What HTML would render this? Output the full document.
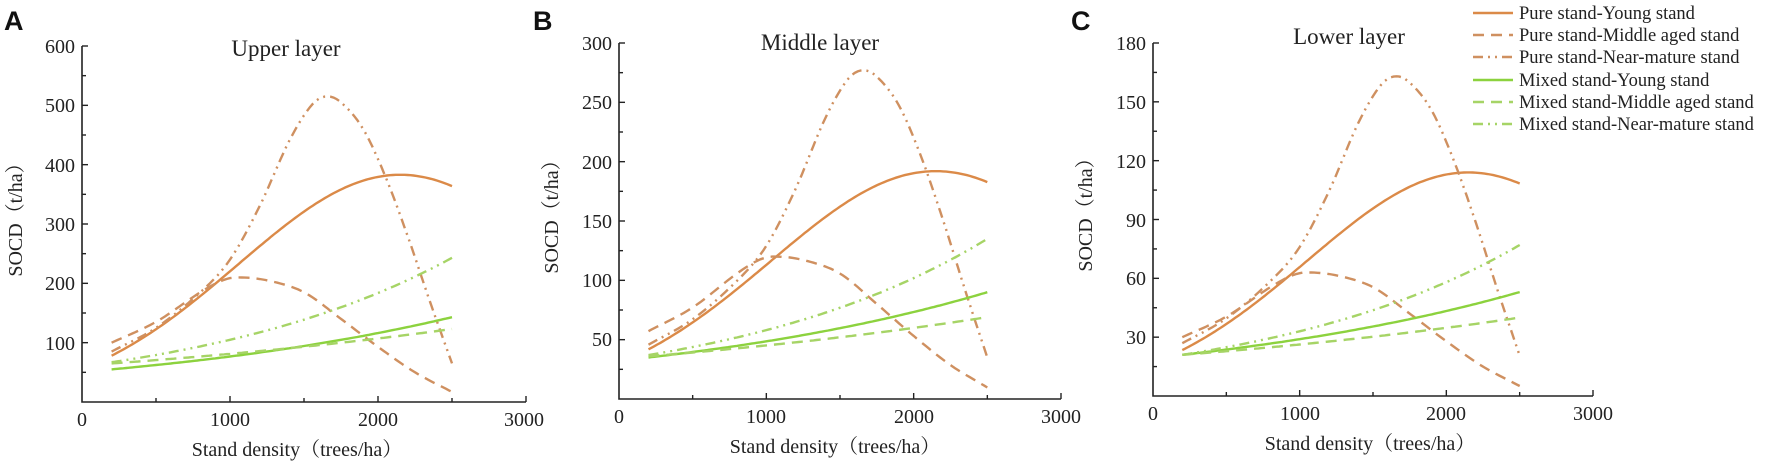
<!DOCTYPE html>
<html><head><meta charset="utf-8"><style>
html,body{margin:0;padding:0;background:#fff;}
svg{display:block;font-family:"Liberation Serif","Noto Serif CJK SC",serif;}
</style></head><body>
<svg id="s" width="1772" height="473" viewBox="0 0 1772 473" xmlns="http://www.w3.org/2000/svg">
<g font-family="Liberation Sans, sans-serif" font-weight="bold" font-size="27" fill="#111">
<text x="4" y="30">A</text><text x="533" y="30">B</text><text x="1071" y="30">C</text>
</g>
<g font-size="23" fill="#222" text-anchor="middle">
<text x="286" y="56">Upper layer</text>
<text x="820" y="50">Middle layer</text>
<text x="1349" y="44">Lower layer</text>
</g>
<g font-size="20" fill="#222" text-anchor="middle">
<text x="297" y="456">Stand density（trees/ha）</text>
<text x="835" y="453">Stand density（trees/ha）</text>
<text x="1370" y="450">Stand density（trees/ha）</text>
<text transform="translate(22,215) rotate(-90)">SOCD（t/ha）</text>
<text transform="translate(558,212) rotate(-90)">SOCD（t/ha）</text>
<text transform="translate(1092,210) rotate(-90)">SOCD（t/ha）</text>
</g>
<g font-size="20" fill="#222" text-anchor="end">
<text x="75" y="53">600</text><text x="75" y="112">500</text><text x="75" y="172">400</text><text x="75" y="231">300</text><text x="75" y="290">200</text><text x="75" y="350">100</text>
<text x="612" y="50">300</text><text x="612" y="109">250</text><text x="612" y="169">200</text><text x="612" y="228">150</text><text x="612" y="287">100</text><text x="612" y="346">50</text>
<text x="1146" y="50">180</text><text x="1146" y="109">150</text><text x="1146" y="168">120</text><text x="1146" y="227">90</text><text x="1146" y="285">60</text><text x="1146" y="344">30</text>
</g>
<g font-size="20" fill="#222" text-anchor="middle">
<text x="82" y="426">0</text><text x="230" y="426">1000</text><text x="378" y="426">2000</text><text x="524" y="426">3000</text>
<text x="619" y="423">0</text><text x="766" y="423">1000</text><text x="914" y="423">2000</text><text x="1061" y="423">3000</text>
<text x="1153" y="420">0</text><text x="1300" y="420">1000</text><text x="1446" y="420">2000</text><text x="1593" y="420">3000</text>
</g>
<g font-size="18.5" fill="#222">
<text x="1519" y="19">Pure stand-Young stand</text>
<text x="1519" y="41">Pure stand-Middle aged stand</text>
<text x="1519" y="63">Pure stand-Near-mature stand</text>
<text x="1519" y="86">Mixed stand-Young stand</text>
<text x="1519" y="108">Mixed stand-Middle aged stand</text>
<text x="1519" y="130">Mixed stand-Near-mature stand</text>
</g>
<g id="g"></g>
</svg>
<script>
var NS="http://www.w3.org/2000/svg",g=document.getElementById("g");
function el(t,a){var e=document.createElementNS(NS,t);for(var k in a)e.setAttribute(k,a[k]);g.appendChild(e);return e;}
var OR="#db8a48",ORD="#cf9060",GR="#8cd23e",GRD="#a6d466";
var DASH="11,7",DDOT="10,5,2,5,2,5";
function gs(x,m,a,wl,wr){var w=x<m?wl:wr;return a*Math.exp(-Math.pow((x-m)/w,2));}
function ex(x,a,b){return a*Math.pow(b/a,(x-200)/2300);}
function cr(pts){return function(x){var i=0;while(i<pts.length-2&&x>pts[i+1][0])i++;
 var p0=pts[Math.max(i-1,0)],p1=pts[i],p2=pts[i+1],p3=pts[Math.min(i+2,pts.length-1)];
 var t=(x-p1[0])/(p2[0]-p1[0]);
 var m1=(p2[1]-p0[1])/(p2[0]-p0[0])*(p2[0]-p1[0]),m2=(p3[1]-p1[1])/(p3[0]-p1[0])*(p2[0]-p1[0]);
 var t2=t*t,t3=t2*t;return (2*t3-3*t2+1)*p1[1]+(t3-2*t2+t)*m1+(-2*t3+3*t2)*p2[1]+(t3-t2)*m2;};}
var NM=cr([[200,85],[500,125],[800,185],[1000,240],[1200,330],[1400,440],[1550,500],[1650,515],[1750,505],[1900,460],[2050,380],[2200,280],[2350,170],[2500,65]]);
var MD=cr([[200,100],[500,135],[800,185],[950,205],[1050,210],[1250,205],[1500,185],[1750,140],[2000,93],[2250,50],[2500,17]]);
function sc(f,k){return function(x){return f(x)*k;};}
var P=[
 {x0:82,x1:526,yb:402,yt:46,ymax:600,step:100,
  c:[[function(x){return gs(x,2150,383,1546,1546)},OR,""],
     [MD,ORD,DASH],[NM,ORD,DDOT],
     [function(x){return ex(x,55,143)},GR,""],
     [function(x){return ex(x,65,123)},GRD,DASH],
     [function(x){return ex(x,67,243)},GRD,DDOT]]},
 {x0:619,x1:1061,yb:399,yt:43,ymax:300,step:50,
  c:[[function(x){return gs(x,2150,192,1580,1580)},OR,""],
     [sc(MD,120/210),ORD,DASH],[sc(NM,277/515),ORD,DDOT],
     [function(x){return ex(x,35,90)},GR,""],
     [function(x){return ex(x,36,69)},GRD,DASH],
     [function(x){return ex(x,37,135)},GRD,DDOT]]},
 {x0:1153,x1:1593,yb:396,yt:43,ymax:180,step:30,
  c:[[function(x){return gs(x,2150,114,1550,1550)},OR,""],
     [sc(MD,63/210),ORD,DASH],[sc(NM,163/515),ORD,DDOT],
     [function(x){return ex(x,21,53)},GR,""],
     [function(x){return ex(x,21,40)},GRD,DASH],
     [function(x){return ex(x,21,77)},GRD,DDOT]]}
];
P.forEach(function(p){
 var sx=function(v){return p.x0+(p.x1-p.x0)*v/3000},sy=function(v){return p.yb-(p.yb-p.yt)*v/p.ymax};
 el("path",{d:"M"+p.x0+","+p.yt+"V"+p.yb+"H"+p.x1,stroke:"#222","stroke-width":1.6,fill:"none"});
 for(var v=p.step/2;v<=p.ymax+0.01;v+=p.step/2){var y=sy(v);el("line",{x1:p.x0,x2:p.x0+(v%p.step==0?6:4),y1:y,y2:y,stroke:"#222","stroke-width":1.4});}
 for(var v=500;v<=3000;v+=500){var x=sx(v);el("line",{x1:x,x2:x,y1:p.yb,y2:p.yb-(v%1000==0?6:4),stroke:"#222","stroke-width":1.4});}
 p.c.forEach(function(c){var d="";for(var x=200;x<=2500;x+=20){d+=(x==200?"M":"L")+sx(x).toFixed(1)+","+sy(c[0](x)).toFixed(1);}
  var a={d:d,stroke:c[1],"stroke-width":2.4,fill:"none"};if(c[2])a["stroke-dasharray"]=c[2];el("path",a);});
});
var L=[[OR,""],[ORD,DASH],[ORD,DDOT],[GR,""],[GRD,DASH],[GRD,DDOT]],Y=[13,35,57,80,102,124];
L.forEach(function(l,i){var a={x1:1473,x2:1513,y1:Y[i],y2:Y[i],stroke:l[0],"stroke-width":2.4};if(l[1])a["stroke-dasharray"]=l[1];el("line",a);});
</script>
</body></html>
